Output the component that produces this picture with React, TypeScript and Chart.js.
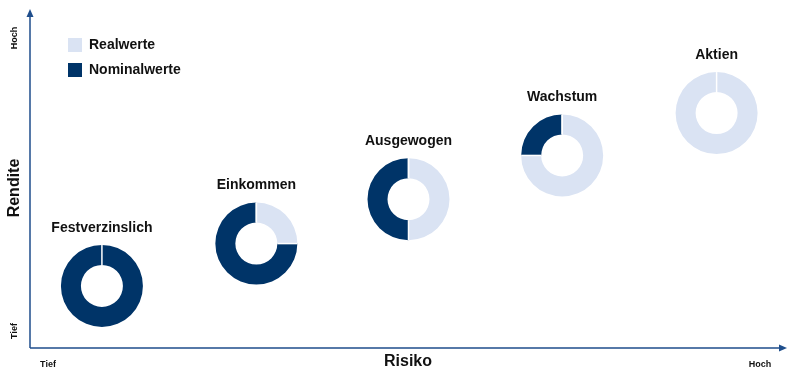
import React, { useEffect, useRef } from "react";
import { Chart, registerables } from "chart.js";

Chart.register(...registerables);

const categories = ["Festverzinslich", "Einkommen", "Ausgewogen", "Wachstum", "Aktien"];
const riskValues = [0.95, 2.99, 5.0, 7.03, 9.07];
const returnValues = [1.83, 3.08, 4.39, 5.68, 6.93];
const realShare = [0, 25, 50, 75, 100];
const nominalShare = [100, 75, 50, 25, 0];
const seriesNames = ["Realwerte", "Nominalwerte"];
const axisLow = "Tief";
const axisHigh = "Hoch";
const xTitle = "Risiko";
const yTitle = "Rendite";

const NAVY = "#003468";
const LIGHT = "#dae3f3";
const AXIS = "#1f4e8c";
const TEXT = "#111111";
const FONT = "'Liberation Sans', Arial, sans-serif";

const donutPlugin = {
  id: "donuts",
  afterDatasetsDraw(chart: any) {
    const ctx: CanvasRenderingContext2D = chart.ctx;
    const meta = chart.getDatasetMeta(0);
    const outerR = 41;
    const innerR = 21;
    ctx.save();
    meta.data.forEach((pt: any, i: number) => {
      const cx = pt.x;
      const cy = pt.y;
      const total = realShare[i] + nominalShare[i];
      const slices = [
        { v: realShare[i], c: LIGHT },
        { v: nominalShare[i], c: NAVY },
      ];
      let a = -Math.PI / 2;
      slices.forEach((s) => {
        if (s.v <= 0) return;
        const a2 = a + (s.v / total) * Math.PI * 2;
        ctx.beginPath();
        ctx.arc(cx, cy, outerR, a, a2);
        ctx.arc(cx, cy, innerR, a2, a, true);
        ctx.closePath();
        ctx.fillStyle = s.c;
        ctx.fill();
        a = a2;
      });
      ctx.strokeStyle = "#ffffff";
      ctx.lineWidth = 1.5;
      let b = -Math.PI / 2;
      const bounds = [b];
      slices.forEach((s) => {
        b += (s.v / total) * Math.PI * 2;
        if (s.v > 0 && s.v < total) bounds.push(b);
      });
      bounds.forEach((ang) => {
        ctx.beginPath();
        ctx.moveTo(cx + Math.cos(ang) * innerR, cy + Math.sin(ang) * innerR);
        ctx.lineTo(cx + Math.cos(ang) * outerR, cy + Math.sin(ang) * outerR);
        ctx.stroke();
      });
      ctx.fillStyle = TEXT;
      ctx.font = `bold 14px ${FONT}`;
      ctx.textAlign = "center";
      ctx.textBaseline = "middle";
      ctx.fillText(categories[i], cx, cy - 58);
    });
    ctx.restore();
  },
};

const axesPlugin = {
  id: "axesArrows",
  afterDraw(chart: any) {
    const ctx: CanvasRenderingContext2D = chart.ctx;
    const { left, right, top, bottom } = chart.chartArea;
    ctx.save();
    ctx.strokeStyle = AXIS;
    ctx.fillStyle = AXIS;
    ctx.lineWidth = 1.5;
    ctx.beginPath();
    ctx.moveTo(left, bottom);
    ctx.lineTo(left, top + 6);
    ctx.moveTo(left, bottom);
    ctx.lineTo(right - 6, bottom);
    ctx.stroke();
    ctx.beginPath();
    ctx.moveTo(left, top);
    ctx.lineTo(left - 3.5, top + 8);
    ctx.lineTo(left + 3.5, top + 8);
    ctx.closePath();
    ctx.fill();
    ctx.beginPath();
    ctx.moveTo(right, bottom);
    ctx.lineTo(right - 8, bottom - 3.5);
    ctx.lineTo(right - 8, bottom + 3.5);
    ctx.closePath();
    ctx.fill();

    ctx.fillStyle = TEXT;
    ctx.textBaseline = "middle";
    ctx.font = `bold 9px ${FONT}`;
    ctx.textAlign = "center";
    ctx.fillText(axisLow, 48, 365);
    ctx.fillText(axisHigh, 760, 365);
    ctx.save();
    ctx.translate(15, 38);
    ctx.rotate(-Math.PI / 2);
    ctx.fillText(axisHigh, 0, 0);
    ctx.restore();
    ctx.save();
    ctx.translate(15, 331);
    ctx.rotate(-Math.PI / 2);
    ctx.fillText(axisLow, 0, 0);
    ctx.restore();
    ctx.font = `bold 16px ${FONT}`;
    ctx.fillText(xTitle, 408, 362);
    ctx.save();
    ctx.translate(15, 188);
    ctx.rotate(-Math.PI / 2);
    ctx.fillText(yTitle, 0, 0);
    ctx.restore();

    const colors = [LIGHT, NAVY];
    seriesNames.forEach((n, i) => {
      const y = 45 + i * 25;
      ctx.fillStyle = colors[i];
      ctx.fillRect(68, y - 7, 14, 14);
      ctx.fillStyle = TEXT;
      ctx.font = `bold 14px ${FONT}`;
      ctx.textAlign = "left";
      ctx.fillText(n, 89, y + 0.5);
    });
    ctx.restore();
  },
};

export default function App() {
  const ref = useRef<HTMLCanvasElement | null>(null);
  useEffect(() => {
    document.body.style.margin = "0";
    if (!ref.current) return;
    const chart = new Chart(ref.current, {
      type: "scatter",
      data: {
        datasets: [
          {
            label: "Portfolios",
            data: riskValues.map((x, i) => ({ x, y: returnValues[i] })),
            pointRadius: 0,
            pointHoverRadius: 0,
          },
        ],
      },
      options: {
        animation: false,
        responsive: false,
        layout: { padding: { left: 30, right: 13, top: 9, bottom: 28 } },
        plugins: { legend: { display: false }, tooltip: { enabled: false } },
        scales: {
          x: { type: "linear", min: 0, max: 10, display: false },
          y: { type: "linear", min: 0, max: 10, display: false },
        },
      },
      plugins: [donutPlugin, axesPlugin],
    });
    return () => chart.destroy();
  }, []);
  return (
    <div style={{ position: "absolute", left: 0, top: 0, width: 800, height: 376, background: "#fff" }}>
      <canvas ref={ref} width={800} height={376} style={{ width: 800, height: 376, display: "block" }} />
    </div>
  );
}
